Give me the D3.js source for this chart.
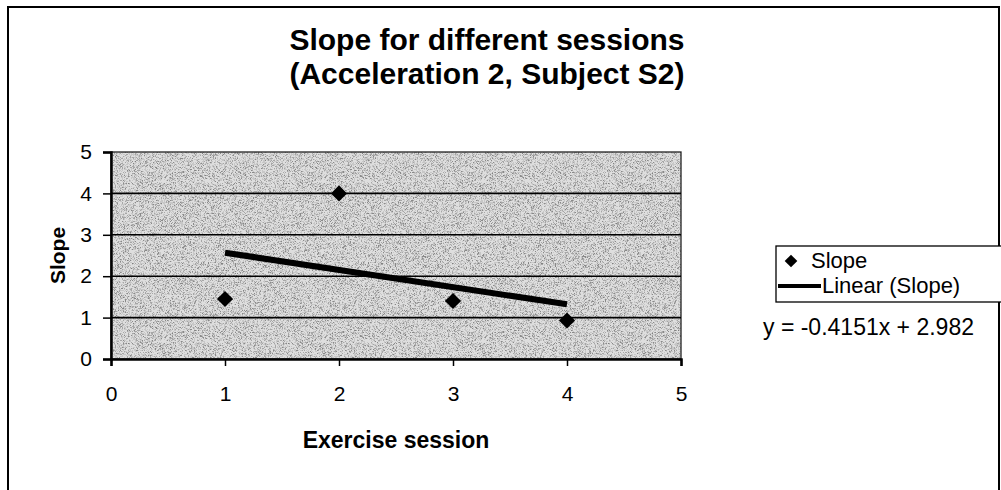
<!DOCTYPE html>
<html><head><meta charset="utf-8">
<script src="https://cdn.jsdelivr.net/npm/d3@7"></script>
<style>body{margin:0;background:#fff}svg{display:block}text{font-family:"Liberation Sans",Arial,sans-serif}</style>
</head><body>
<script>
const sessions = [1, 2, 3, 4];
const slopeValues = [1.45, 4.0, 1.40, 0.93];
const xTicks = [0, 1, 2, 3, 4, 5];
const yTicks = [0, 1, 2, 3, 4, 5];
const trendSlope = -0.4151, trendIntercept = 2.982;
const titleLines = ["Slope for different sessions", "(Acceleration 2, Subject S2)"];
const legendLabels = ["Slope", "Linear (Slope)"];
const equationText = "y = -0.4151x + 2.982";

const W = 1001, H = 490;
const svg = d3.select("body").append("svg").attr("width", W).attr("height", H);

const defs = svg.append("defs");
const f = defs.append("filter").attr("id", "stipple")
  .attr("x", 0).attr("y", 0).attr("width", 1).attr("height", 1);
f.append("feTurbulence").attr("type", "fractalNoise").attr("baseFrequency", 1.6)
  .attr("numOctaves", 2).attr("seed", 3).attr("result", "t");
f.append("feColorMatrix").attr("in", "t").attr("type", "matrix")
  .attr("values", "0 0 0 0 0  0 0 0 0 0  0 0 0 0 0  1 0 0 0 0").attr("result", "a0");
const ct = f.append("feComponentTransfer").attr("in", "a0").attr("result", "a");
ct.append("feFuncA").attr("type", "discrete").attr("tableValues", "0 0 0 0 0 0.25 0.6 0.9 1 1");
f.append("feFlood").attr("flood-color", "#808080").attr("result", "fl");
f.append("feComposite").attr("in", "fl").attr("in2", "a").attr("operator", "in");

svg.append("rect").attr("x", 8).attr("y", 7).attr("width", 991).attr("height", 500)
  .attr("fill", "#fff").attr("stroke", "#000").attr("stroke-width", 2);

const L = 111, R = 681, T = 152, B = 359;
const x = d3.scaleLinear().domain([0, 5]).range([L, R]);
const y = d3.scaleLinear().domain([0, 5]).range([B, T]);

svg.append("rect").attr("x", L).attr("y", T).attr("width", R - L).attr("height", B - T)
  .attr("fill", "#dedede");
svg.append("rect").attr("x", L).attr("y", T).attr("width", R - L).attr("height", B - T)
  .attr("fill", "#000").attr("filter", "url(#stipple)");
svg.append("rect").attr("x", L).attr("y", T).attr("width", R - L).attr("height", B - T)
  .attr("fill", "none").attr("stroke", "#222").attr("stroke-width", 1.3);

svg.append("g").selectAll("line").data(yTicks.filter(d => d > 0 && d < 5)).join("line")
  .attr("x1", L).attr("x2", R).attr("y1", d => y(d)).attr("y2", d => y(d))
  .attr("stroke", "#000").attr("stroke-width", 1.6);

const yAxis = svg.append("g").attr("transform", `translate(${L},0)`)
  .call(d3.axisLeft(y).tickValues(yTicks).tickSize(8).tickPadding(11).tickFormat(d3.format("d")));
const xAxis = svg.append("g").attr("transform", `translate(0,${B})`)
  .call(d3.axisBottom(x).tickValues(xTicks).tickSize(7).tickPadding(20).tickFormat(d3.format("d")));
[yAxis, xAxis].forEach(a => {
  a.select(".domain").attr("stroke", "#000").attr("stroke-width", 2.5);
  a.selectAll(".tick line").attr("stroke", "#000").attr("stroke-width", 1.5);
  a.selectAll("text").attr("font-size", 21).attr("fill", "#000")
    .style("font-family", '"Liberation Sans",Arial,sans-serif');
});

svg.append("line")
  .attr("x1", x(sessions[0])).attr("y1", y(trendSlope * sessions[0] + trendIntercept))
  .attr("x2", x(sessions[sessions.length - 1])).attr("y2", y(trendSlope * sessions[sessions.length - 1] + trendIntercept))
  .attr("stroke", "#000").attr("stroke-width", 6);

const diamond = d3.symbol().type(d3.symbolSquare).size(130);
svg.append("g").selectAll("path").data(sessions).join("path")
  .attr("d", diamond)
  .attr("transform", (d, i) => `translate(${x(d)},${y(slopeValues[i])}) rotate(45)`)
  .attr("fill", "#000");

svg.append("g").selectAll("text").data(titleLines).join("text")
  .attr("x", 487).attr("y", (d, i) => 50 + i * 34).attr("text-anchor", "middle")
  .attr("font-size", 30).attr("font-weight", "bold").text(d => d);

svg.append("text").attr("x", (L + R) / 2).attr("y", 448).attr("text-anchor", "middle")
  .attr("font-size", 23).attr("font-weight", "bold").text("Exercise session");
svg.append("text").attr("transform", `translate(65,${(T + B) / 2}) rotate(-90)`)
  .attr("text-anchor", "middle").attr("font-size", 21).attr("font-weight", "bold").text("Slope");

const lg = svg.append("g");
lg.append("rect").attr("x", 776).attr("y", 246).attr("width", 240).attr("height", 56)
  .attr("fill", "#fff").attr("stroke", "#000").attr("stroke-width", 1.3);
lg.append("path").attr("d", d3.symbol().type(d3.symbolSquare).size(80))
  .attr("transform", "translate(791,261) rotate(45)").attr("fill", "#000");
lg.append("line").attr("x1", 778).attr("x2", 821).attr("y1", 286).attr("y2", 286)
  .attr("stroke", "#000").attr("stroke-width", 4);
lg.selectAll("text").data(legendLabels).join("text")
  .attr("x", (d, i) => i === 0 ? 811 : 822).attr("y", (d, i) => 268 + i * 25)
  .attr("font-size", 22).text(d => d);

svg.append("text").attr("x", 763).attr("y", 335).attr("font-size", 23).text(equationText);
</script>
</body></html>
